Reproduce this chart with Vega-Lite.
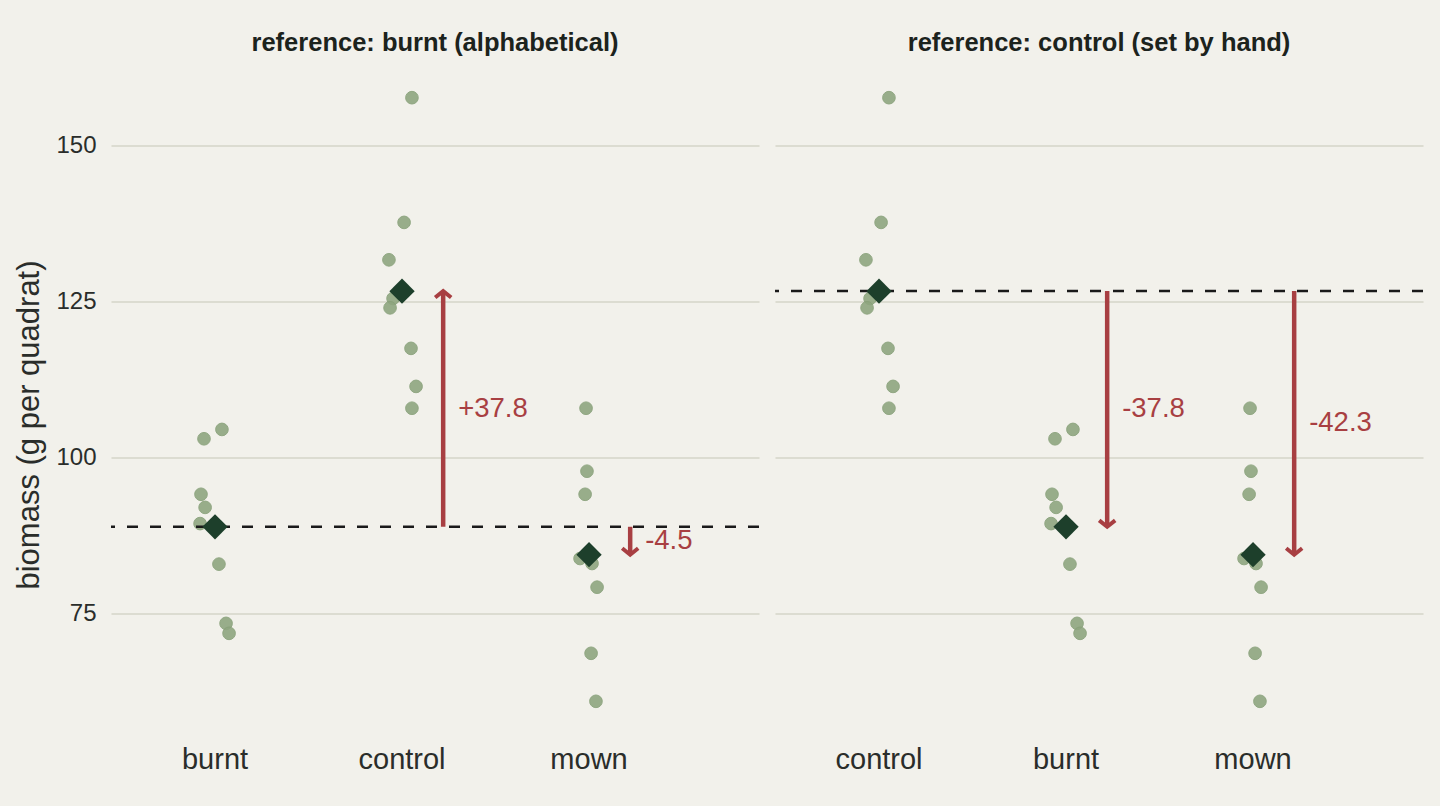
{
  "$schema": "https://vega.github.io/schema/vega-lite/v6.json",
  "background": "#f2f1eb",
  "padding": {"left": 13, "top": 30.5, "right": 23, "bottom": 32},
  "config": {
    "font": "Liberation Sans",
    "view": {"stroke": null},
    "concat": {"spacing": 12},
    "axis": {"domain": false, "ticks": false, "labelColor": "#2a2d2a", "titleColor": "#2a2d2a"}
  },
  "datasets": {
    "obs": [
      {"group": "burnt", "biomass": 104.5, "jit": 0.037},
      {"group": "burnt", "biomass": 103.0, "jit": -0.059},
      {"group": "burnt", "biomass": 94.1, "jit": -0.075},
      {"group": "burnt", "biomass": 92.0, "jit": -0.053},
      {"group": "burnt", "biomass": 89.4, "jit": -0.080},
      {"group": "burnt", "biomass": 82.9, "jit": 0.021},
      {"group": "burnt", "biomass": 73.4, "jit": 0.059},
      {"group": "burnt", "biomass": 71.8, "jit": 0.075},
      {"group": "control", "biomass": 157.7, "jit": 0.053},
      {"group": "control", "biomass": 137.7, "jit": 0.011},
      {"group": "control", "biomass": 131.7, "jit": -0.070},
      {"group": "control", "biomass": 125.5, "jit": -0.048},
      {"group": "control", "biomass": 124.0, "jit": -0.064},
      {"group": "control", "biomass": 117.5, "jit": 0.048},
      {"group": "control", "biomass": 111.4, "jit": 0.075},
      {"group": "control", "biomass": 107.9, "jit": 0.053},
      {"group": "mown", "biomass": 107.9, "jit": -0.016},
      {"group": "mown", "biomass": 97.8, "jit": -0.011},
      {"group": "mown", "biomass": 94.1, "jit": -0.021},
      {"group": "mown", "biomass": 83.8, "jit": -0.048},
      {"group": "mown", "biomass": 83.0, "jit": 0.016},
      {"group": "mown", "biomass": 79.2, "jit": 0.043},
      {"group": "mown", "biomass": 68.6, "jit": 0.011},
      {"group": "mown", "biomass": 60.9, "jit": 0.037}
    ],
    "refA": [{"ref": 88.89}],
    "refB": [{"ref": 126.68}],
    "arrowsA": [
      {"group": "control", "from": 88.89, "to": 126.68, "mid": 107.8, "label": "+37.8", "dir": "up"},
      {"group": "mown", "from": 88.89, "to": 84.41, "mid": 86.65, "label": "-4.5", "dir": "down"}
    ],
    "arrowsB": [
      {"group": "burnt", "from": 126.68, "to": 88.89, "mid": 107.8, "label": "-37.8", "dir": "down"},
      {"group": "mown", "from": 126.68, "to": 84.41, "mid": 105.5, "label": "-42.3", "dir": "down"}
    ]
  },
  "hconcat": [
    {
      "width": 648,
      "height": 664,
      "title": {"text": "reference: burnt (alphabetical)", "fontSize": 25.5, "fontWeight": "bold", "color": "#1c231d", "offset": 11, "anchor": "middle"},
      "encoding": {
        "x": {"field": "group", "type": "nominal", "sort": ["burnt", "control", "mown"],
              "scale": {"type": "band", "paddingInner": 0, "paddingOuter": 0.2326, "align": 0.121},
              "axis": {"title": null, "labelAngle": 0, "labelFontSize": 29, "labelPadding": 14, "grid": false}}
      },
      "layer": [
        {
          "data": {"name": "obs"},
          "mark": {"type": "circle", "size": 160, "color": "#8fa680", "opacity": 0.9, "stroke": "#87a078", "strokeWidth": 1},
          "encoding": {
            "xOffset": {"field": "jit", "type": "quantitative", "scale": {"domain": [-0.5, 0.5]}},
            "y": {"field": "biomass", "type": "quantitative",
                  "scale": {"domain": [56.06, 162.54], "nice": false, "zero": false},
                  "axis": {"title": "biomass (g per quadrat)", "titleFontSize": 31, "titleFontWeight": "normal", "titlePadding": 10, "titleY": 357,
                           "labelFontSize": 24, "labelPadding": 15, "values": [75, 100, 125, 150],
                           "grid": true, "gridColor": "#d5d5c8", "gridWidth": 1.5}}
          }
        },
        {
          "data": {"name": "refA"},
          "mark": {"type": "rule", "color": "#1a1a1a", "strokeWidth": 2.5, "strokeDash": [11, 12]},
          "encoding": {"x": null, "y": {"field": "ref", "type": "quantitative"}}
        },
        {
          "data": {"name": "obs"},
          "mark": {"type": "point", "shape": "diamond", "filled": true, "size": 640, "color": "#1d3f2b", "opacity": 1},
          "encoding": {"y": {"aggregate": "mean", "field": "biomass", "type": "quantitative"}}
        },
        {
          "data": {"name": "arrowsA"},
          "mark": {"type": "rule", "color": "#a83f42", "strokeWidth": 4.5},
          "encoding": {
            "x": {"field": "group", "type": "nominal", "sort": ["burnt", "control", "mown"], "bandPosition": 0.72},
            "y": {"field": "from", "type": "quantitative"},
            "y2": {"field": "to"}
          }
        },
        {
          "data": {"name": "arrowsA"},
          "mark": {"type": "point", "filled": false, "size": 256, "color": "#a83f42", "strokeWidth": 4, "strokeJoin": "miter", "opacity": 1},
          "encoding": {
            "x": {"field": "group", "type": "nominal", "sort": ["burnt", "control", "mown"], "bandPosition": 0.72},
            "y": {"field": "to", "type": "quantitative"},
            "shape": {"field": "dir", "type": "nominal", "legend": null,
                      "scale": {"domain": ["up", "down"], "range": ["M-1,0.8L0,0L1,0.8", "M-1,-0.8L0,0L1,-0.8"]}}
          }
        },
        {
          "data": {"name": "arrowsA"},
          "mark": {"type": "text", "align": "left", "baseline": "middle", "fontSize": 27.5, "color": "#a83f42"},
          "encoding": {
            "x": {"field": "group", "type": "nominal", "sort": ["burnt", "control", "mown"], "bandPosition": 0.8},
            "y": {"field": "mid", "type": "quantitative"},
            "text": {"field": "label"}
          }
        }
      ]
    },
    {
      "width": 648,
      "height": 664,
      "title": {"text": "reference: control (set by hand)", "fontSize": 25.5, "fontWeight": "bold", "color": "#1c231d", "offset": 11, "anchor": "middle"},
      "encoding": {
        "x": {"field": "group", "type": "nominal", "sort": ["control", "burnt", "mown"],
              "scale": {"type": "band", "paddingInner": 0, "paddingOuter": 0.2326, "align": 0.121},
              "axis": {"title": null, "labelAngle": 0, "labelFontSize": 29, "labelPadding": 14, "grid": false}}
      },
      "layer": [
        {
          "data": {"name": "obs"},
          "mark": {"type": "circle", "size": 160, "color": "#8fa680", "opacity": 0.9, "stroke": "#87a078", "strokeWidth": 1},
          "encoding": {
            "xOffset": {"field": "jit", "type": "quantitative", "scale": {"domain": [-0.5, 0.5]}},
            "y": {"field": "biomass", "type": "quantitative",
                  "scale": {"domain": [56.06, 162.54], "nice": false, "zero": false},
                  "axis": {"title": null, "labels": false, "values": [75, 100, 125, 150],
                           "grid": true, "gridColor": "#d5d5c8", "gridWidth": 1.5}}
          }
        },
        {
          "data": {"name": "refB"},
          "mark": {"type": "rule", "color": "#1a1a1a", "strokeWidth": 2.5, "strokeDash": [11, 12]},
          "encoding": {"x": null, "y": {"field": "ref", "type": "quantitative"}}
        },
        {
          "data": {"name": "obs"},
          "mark": {"type": "point", "shape": "diamond", "filled": true, "size": 640, "color": "#1d3f2b", "opacity": 1},
          "encoding": {"y": {"aggregate": "mean", "field": "biomass", "type": "quantitative"}}
        },
        {
          "data": {"name": "arrowsB"},
          "mark": {"type": "rule", "color": "#a83f42", "strokeWidth": 4.5},
          "encoding": {
            "x": {"field": "group", "type": "nominal", "sort": ["control", "burnt", "mown"], "bandPosition": 0.72},
            "y": {"field": "from", "type": "quantitative"},
            "y2": {"field": "to"}
          }
        },
        {
          "data": {"name": "arrowsB"},
          "mark": {"type": "point", "filled": false, "size": 256, "color": "#a83f42", "strokeWidth": 4, "strokeJoin": "miter", "opacity": 1},
          "encoding": {
            "x": {"field": "group", "type": "nominal", "sort": ["control", "burnt", "mown"], "bandPosition": 0.72},
            "y": {"field": "to", "type": "quantitative"},
            "shape": {"field": "dir", "type": "nominal", "legend": null,
                      "scale": {"domain": ["up", "down"], "range": ["M-1,0.8L0,0L1,0.8", "M-1,-0.8L0,0L1,-0.8"]}}
          }
        },
        {
          "data": {"name": "arrowsB"},
          "mark": {"type": "text", "align": "left", "baseline": "middle", "fontSize": 27.5, "color": "#a83f42"},
          "encoding": {
            "x": {"field": "group", "type": "nominal", "sort": ["control", "burnt", "mown"], "bandPosition": 0.8},
            "y": {"field": "mid", "type": "quantitative"},
            "text": {"field": "label"}
          }
        }
      ]
    }
  ]
}
